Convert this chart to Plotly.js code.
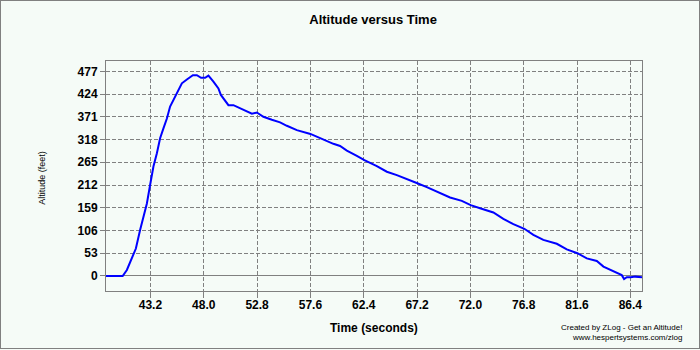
<!DOCTYPE html>
<html>
<head>
<meta charset="utf-8">
<script src="https://cdn.plot.ly/plotly-3.0.1.min.js"></script>
<style>
  html, body { margin: 0; padding: 0; background: #F5FBF7; }
  #wrap { position: relative; width: 700px; height: 350px; }
  #chart { width: 700px; height: 350px; }
  #frame { position: absolute; left: 0; top: 0; width: 698px; height: 347px; border: 1px solid #808080; pointer-events: none; }
</style>
</head>
<body>
<div id="wrap">
  <div id="chart"></div>
  <div id="frame"></div>
</div>
<script>
// Time (seconds)
const timeSec = [39.2, 40.7, 41.08, 41.53, 41.89, 42.27, 42.57, 42.88, 43.17, 43.47, 43.78, 44.07, 44.37, 44.68, 44.97, 45.27, 45.72, 46.03, 46.48, 47.02, 47.38, 47.76, 48.12, 48.42, 48.87, 49.32, 49.54, 49.92, 50.22, 50.67, 51.27, 51.72, 52.33, 52.78, 53.37, 54.13, 54.87, 55.48, 56.38, 57.6, 58.77, 59.67, 60.27, 60.88, 61.78, 62.46, 63.58, 64.48, 65.38, 66.28, 67.23, 68.08, 69.27, 70.17, 71.23, 72.03, 72.87, 74.07, 74.97, 75.87, 76.86, 77.67, 78.57, 79.78, 80.68, 81.63, 82.48, 83.38, 83.98, 84.88, 85.63, 85.84, 86.08, 86.44, 86.83, 87.45];
// Altitude (feet)
const altitudeFt = [0, 0, 14, 41, 64, 107, 138, 169, 212, 255, 286, 321, 344, 367, 395, 410, 433, 449, 458, 468, 468, 462, 462, 467, 453, 437, 422, 410, 398, 398, 391, 387, 378, 381, 371, 364, 358, 350, 340, 331, 317, 308, 303, 292, 280, 270, 256, 243, 235, 225, 216, 207, 193, 183, 175, 165, 158, 148, 133, 121, 110, 96, 84, 75, 62, 53, 41, 35, 22, 12, 2, -7, -3, -3, -1.5, -3];

const xTickVals = [43.2, 48.0, 52.8, 57.6, 62.4, 67.2, 72.0, 76.8, 81.6, 86.4];
const xTickText = ["43.2", "48.0", "52.8", "57.6", "62.4", "67.2", "72.0", "76.8", "81.6", "86.4"];
const yTickVals = [0, 53, 106, 159, 212, 265, 318, 371, 424, 477];

const chartTitle = "Altitude versus Time";
const xTitle = "Time (seconds)";
const yTitle = "Altitude (feet)";
const credits = "Created by ZLog - Get an Altitude!<br>www.hespertsystems.com/zlog";

const bg = "#F5FBF7";
const gray = "#808080";
const fontFam = "Liberation Sans, Arial, sans-serif";

const trace = {
  x: timeSec,
  y: altitudeFt,
  type: "scatter",
  mode: "lines",
  line: { color: "#0000FF", width: 2 },
  hoverinfo: "skip",
  showlegend: false
};

const layout = {
  width: 700,
  height: 350,
  margin: { l: 106, r: 58, t: 61, b: 59 },
  paper_bgcolor: bg,
  plot_bgcolor: bg,
  showlegend: false,
  title: {
    text: chartTitle,
    xref: "container", yref: "container",
    x: 0.533, y: 1 - 19 / 350,
    xanchor: "center", yanchor: "middle",
    font: { family: fontFam, size: 13, color: "#000", weight: "bold" }
  },
  xaxis: {
    range: [39.2, 87.45],
    tickmode: "array",
    tickvals: xTickVals,
    ticktext: xTickText,
    ticks: "outside",
    ticklen: 6,
    ticklabelstandoff: -3,
    tickcolor: gray,
    tickwidth: 1,
    showgrid: true,
    gridcolor: gray,
    gridwidth: 1,
    griddash: "4px,2px",
    showline: true,
    linecolor: gray,
    linewidth: 1,
    mirror: true,
    zeroline: false,
    tickfont: { family: fontFam, size: 12, color: "#000", weight: "bold" },
    fixedrange: true
  },
  yaxis: {
    range: [-35, 501],
    tickmode: "array",
    tickvals: yTickVals,
    ticks: "outside",
    ticklen: 5,
    tickcolor: gray,
    tickwidth: 1,
    showgrid: true,
    gridcolor: gray,
    gridwidth: 1,
    griddash: "4px,2px",
    showline: true,
    linecolor: gray,
    linewidth: 1,
    mirror: true,
    zeroline: true,
    zerolinecolor: gray,
    zerolinewidth: 1,
    tickfont: { family: fontFam, size: 12, color: "#000", weight: "bold" },
    fixedrange: true
  },
  annotations: [
    {
      text: xTitle, xref: "paper", yref: "paper",
      x: 0.5, y: (291 - 328) / 230, xanchor: "center", yanchor: "middle",
      showarrow: false,
      font: { family: fontFam, size: 12, color: "#000", weight: "bold" }
    },
    {
      text: yTitle, xref: "paper", yref: "paper",
      x: (41.7 - 106) / 536, y: (291 - 178) / 230, xanchor: "center", yanchor: "middle",
      textangle: -90, showarrow: false,
      font: { family: fontFam, size: 9, color: "#000" }
    },
    {
      text: credits, xref: "paper", yref: "paper",
      x: (684 - 106) / 536, y: (291 - 332) / 230, xanchor: "right", yanchor: "middle",
      align: "right", showarrow: false,
      font: { family: fontFam, size: 8, color: "#000" }
    }
  ]
};

Plotly.newPlot("chart", [trace], layout, { displayModeBar: false, staticPlot: true });
</script>
</body>
</html>
